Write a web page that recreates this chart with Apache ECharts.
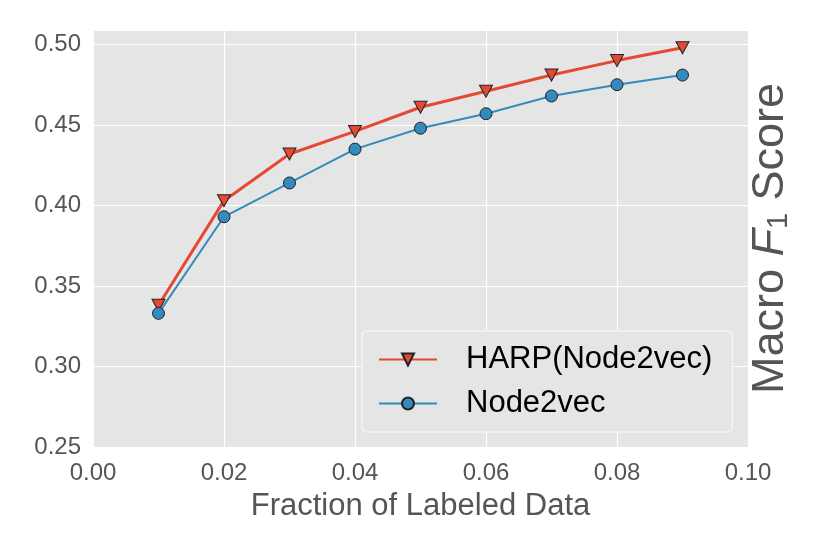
<!DOCTYPE html>
<html>
<head>
<meta charset="utf-8">
<title>Macro F1</title>
<script src="https://cdn.jsdelivr.net/npm/echarts@6/dist/echarts.min.js"></script>
<style>
  html, body { margin: 0; padding: 0; background: #fff; }
  #main { width: 830px; height: 554px; }
</style>
</head>
<body>
<div id="main"></div>
<script type="text/javascript">
// data
var fractions = [0.01, 0.02, 0.03, 0.04, 0.05, 0.06, 0.07, 0.08, 0.09];
var harpScores = [0.338, 0.403, 0.432, 0.446, 0.461, 0.471, 0.481, 0.490, 0.498];
var node2vecScores = [0.333, 0.393, 0.414, 0.435, 0.448, 0.457, 0.468, 0.475, 0.481];
var seriesNames = ['HARP(Node2vec)', 'Node2vec'];

function pairs(xs, ys) {
    var out = [];
    for (var i = 0; i < xs.length; i++) out.push([xs[i], ys[i]]);
    return out;
}

var font = 'Liberation Sans, Arial, Helvetica, sans-serif';
var myChart = echarts.init(document.getElementById('main'));

var option = {
    animation: false,
    textStyle: { fontFamily: font },
    grid: {
        left: 93,
        right: 82,
        top: 30,
        bottom: 107,
        show: true,
        backgroundColor: '#e5e5e5',
        borderWidth: 0
    },
    legend: {
        orient: 'vertical',
        left: 362,
        top: 331,
        width: 371,
        padding: [13, 20, 13, 16],
        backgroundColor: '#e5e5e5',
        borderColor: '#f4f4f4',
        borderWidth: 1.5,
        borderRadius: 5,
        itemWidth: 58,
        itemHeight: 15,
        itemGap: 13,
        textStyle: { fontSize: 31, color: '#000', fontFamily: font, padding: [0, 0, 0, 24] },
        data: seriesNames
    },
    xAxis: {
        type: 'value',
        min: 0,
        max: 0.1,
        interval: 0.02,
        name: 'Fraction of Labeled Data',
        nameLocation: 'middle',
        nameGap: 44,
        nameTextStyle: { fontSize: 31, color: '#555' },
        axisLine: { show: false },
        axisTick: { show: false },
        axisLabel: {
            fontSize: 24,
            color: '#555',
            margin: 14,
            formatter: function (v) { return v.toFixed(2); }
        },
        splitLine: { show: true, lineStyle: { color: '#fff', width: 1.2 } }
    },
    yAxis: [
        {
            type: 'value',
            min: 0.25,
            max: 0.509,
            interval: 0.05,
            axisLine: { show: false },
            axisTick: { show: false },
            axisLabel: {
                fontSize: 24,
                color: '#555',
                margin: 12,
                showMaxLabel: false,
                formatter: function (v) { return v.toFixed(2); }
            },
            splitLine: { show: true, lineStyle: { color: '#fff', width: 1.2 } }
        },
        {
            type: 'value',
            position: 'right',
            min: 0.25,
            max: 0.509,
            name: '{t|Macro }{i|F}{s|1}{t| Score}',
            nameLocation: 'middle',
            nameRotate: 90,
            nameGap: 0,
            nameTextStyle: {
                color: '#555',
                rich: {
                    t: { fontSize: 45, color: '#555', fontFamily: font },
                    i: { fontSize: 45, color: '#555', fontFamily: font, fontStyle: 'italic' },
                    s: { fontSize: 29, color: '#555', fontFamily: font, padding: [16, 0, 0, 0] }
                }
            },
            axisLine: { show: false },
            axisTick: { show: false },
            axisLabel: { show: false },
            splitLine: { show: false }
        }
    ],
    series: [
        {
            name: seriesNames[0],
            type: 'line',
            data: pairs(fractions, harpScores),
            symbol: 'triangle',
            symbolRotate: 180,
            symbolSize: [13, 12],
            lineStyle: { color: '#e24a33', width: 3 },
            itemStyle: { color: '#e24a33', borderColor: '#222', borderWidth: 1 },
            z: 2
        },
        {
            name: seriesNames[1],
            type: 'line',
            data: pairs(fractions, node2vecScores),
            symbol: 'circle',
            symbolSize: 12,
            lineStyle: { color: '#348abd', width: 2 },
            itemStyle: { color: '#348abd', borderColor: '#222', borderWidth: 1 },
            z: 3
        }
    ]
};

myChart.setOption(option);
</script>
</body>
</html>
